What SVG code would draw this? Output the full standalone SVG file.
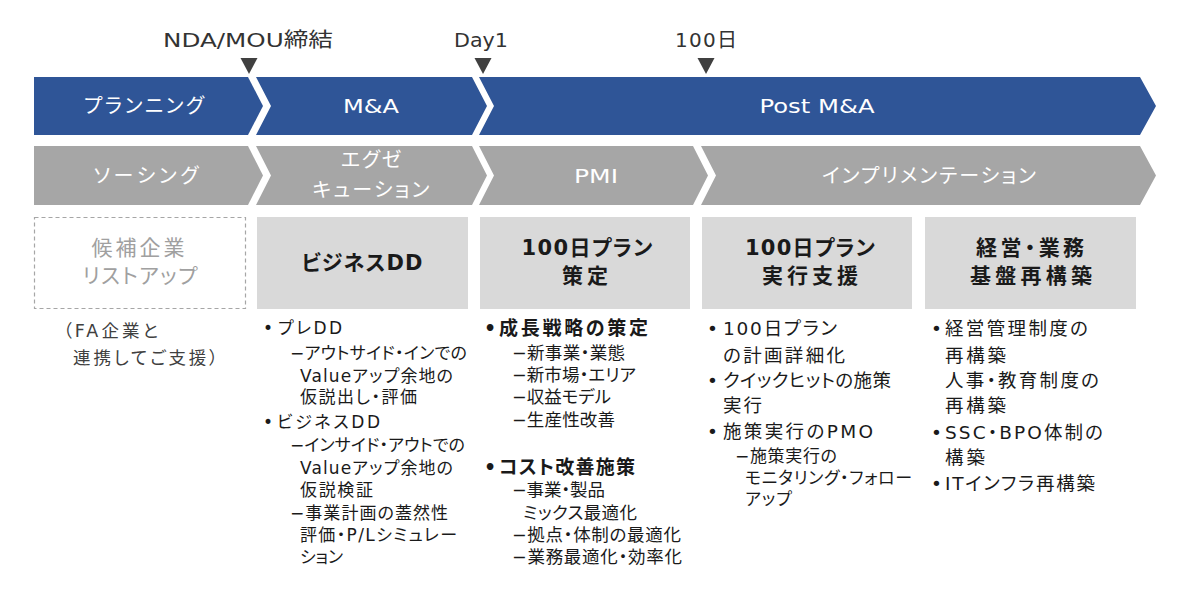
<svg xmlns="http://www.w3.org/2000/svg" width="1200" height="600" viewBox="0 0 1200 600">
<style>
text{font-family:"DejaVu Sans","Noto Sans CJK JP",sans-serif;font-feature-settings:"palt";}
.blue{fill:#2F5597;}
.gray{fill:#A6A6A6;}
.box{fill:#D9D9D9;}
.dash{fill:#FFFFFF;stroke:#A6A6A6;stroke-width:1.2;stroke-dasharray:4 3;}
.tri{fill:#404040;}
.mk{font-size:20px;fill:#333333;text-anchor:middle;}
.band{font-size:20px;fill:#FFFFFF;text-anchor:middle;}
.ttl{font-size:21px;font-weight:700;fill:#1A1A1A;text-anchor:middle;}
.ttlg{font-size:21px;fill:#A0A0A0;text-anchor:middle;}
.c1{font-size:17.5px;fill:#404040;}
.c2{font-size:17px;fill:#1A1A1A;}
.c3{font-size:17.5px;fill:#1A1A1A;}
.c3b{font-size:19px;font-weight:700;fill:#1A1A1A;}
.c4{font-size:18.5px;fill:#1A1A1A;}
</style>

<g id="milestones">
  <text class="mk" x="248" y="46.5" textLength="170" lengthAdjust="spacingAndGlyphs">NDA/MOU締結</text>
  <path class="tri" d="M240.5,58 H257.5 L249,74 Z"/>
  <text class="mk" x="481" y="46.5" textLength="54" lengthAdjust="spacingAndGlyphs">Day1</text>
  <path class="tri" d="M474.5,58 H491.5 L483,74 Z"/>
  <text class="mk" x="706" y="46.5" textLength="62">100日</text>
  <path class="tri" d="M697.5,58 H714.5 L706,74 Z"/>
</g>

<g id="phase-planning">
  <path class="blue" d="M34,77 H248 L263,106 L248,135 H34 Z"/>
  <text class="band" x="144" y="113" textLength="120">プランニング</text>
</g>
<g id="phase-ma">
  <path class="blue" d="M256,77 H472 L487,106 L472,135 H256 L271,106 Z"/>
  <text class="band" x="371" y="113" textLength="56" lengthAdjust="spacingAndGlyphs">M&amp;A</text>
</g>
<g id="phase-postma">
  <path class="blue" d="M479,77 H1140 L1156,106 L1140,135 H479 L494,106 Z"/>
  <text class="band" x="817" y="113" textLength="115" lengthAdjust="spacingAndGlyphs">Post M&amp;A</text>
</g>

<g id="stage-sourcing">
  <path class="gray" d="M34,146 H248 L263,175.5 L248,205 H34 Z"/>
  <text class="band" x="146" y="182.5" textLength="105">ソーシング</text>
</g>
<g id="stage-execution">
  <path class="gray" d="M256,146 H472 L487,175.5 L472,205 H256 L271,175.5 Z"/>
  <text class="band" x="371" y="167" textLength="60">エグゼ</text>
  <text class="band" x="371" y="197" textLength="117">キューション</text>
</g>
<g id="stage-pmi">
  <path class="gray" d="M479,146 H693 L708,175.5 L693,205 H479 L494,175.5 Z"/>
  <text class="band" x="596" y="182.5" textLength="44" lengthAdjust="spacingAndGlyphs">PMI</text>
</g>
<g id="stage-implementation">
  <path class="gray" d="M701,146 H1140 L1156,175.5 L1140,205 H701 L716,175.5 Z"/>
  <text class="band" x="929" y="182.5" textLength="214">インプリメンテーション</text>
</g>

<g id="box-candidates">
  <rect class="dash" x="34.5" y="217.5" width="211" height="91"/>
  <text class="ttlg" x="138" y="254.5" textLength="93">候補企業</text>
  <text class="ttlg" x="140" y="282.5" textLength="115">リストアップ</text>
  <text class="c1" x="63" y="337" textLength="95">（FA企業と</text>
  <text class="c1" x="73" y="364" textLength="145">連携してご支援）</text>
</g>

<g id="box-businessdd">
  <rect class="box" x="257" y="217" width="211" height="92"/>
  <text class="ttl" x="362" y="269.5" textLength="121">ビジネスDD</text>
  <text class="c2" x="263" y="334">•</text>
  <text class="c2" x="278" y="334" textLength="64">プレDD</text>
  <text class="c2" x="290" y="359" textLength="177">−アウトサイド・インでの</text>
  <text class="c2" x="300" y="382" textLength="153">Valueアップ余地の</text>
  <text class="c2" x="300" y="403" textLength="117">仮説出し・評価</text>
  <text class="c2" x="263" y="428">•</text>
  <text class="c2" x="277" y="428" textLength="103">ビジネスDD</text>
  <text class="c2" x="290" y="451" textLength="175">−インサイド・アウトでの</text>
  <text class="c2" x="300" y="474" textLength="153">Valueアップ余地の</text>
  <text class="c2" x="300" y="496" textLength="73">仮説検証</text>
  <text class="c2" x="290" y="519" textLength="158">−事業計画の蓋然性</text>
  <text class="c2" x="300" y="541" textLength="157">評価・P/Lシミュレー</text>
  <text class="c2" x="300" y="563" textLength="43">ション</text>
</g>

<g id="box-100day-plan">
  <rect class="box" x="480" y="217" width="210" height="92"/>
  <text class="ttl" x="587" y="254.5" textLength="131">100日プラン</text>
  <text class="ttl" x="585" y="282.5" textLength="46">策定</text>
  <text class="c3b" x="484" y="334.5">•</text>
  <text class="c3b" x="499" y="334.5" textLength="149">成長戦略の策定</text>
  <text class="c3" x="512" y="359" textLength="113">−新事業・業態</text>
  <text class="c3" x="512" y="381" textLength="124">−新市場・エリア</text>
  <text class="c3" x="512" y="403" textLength="99">−収益モデル</text>
  <text class="c3" x="512" y="426" textLength="103">−生産性改善</text>
  <text class="c3b" x="484" y="473.5">•</text>
  <text class="c3b" x="499" y="473.5" textLength="136">コスト改善施策</text>
  <text class="c3" x="512" y="496" textLength="93">−事業・製品</text>
  <text class="c3" x="523" y="519" textLength="114">ミックス最適化</text>
  <text class="c3" x="512" y="541" textLength="169">−拠点・体制の最適化</text>
  <text class="c3" x="512" y="563" textLength="170">−業務最適化・効率化</text>
</g>

<g id="box-100day-support">
  <rect class="box" x="702" y="217" width="210" height="92"/>
  <text class="ttl" x="810" y="254.5" textLength="130">100日プラン</text>
  <text class="ttl" x="810" y="282.5" textLength="96">実行支援</text>
  <text class="c4" x="707" y="334.5">•</text>
  <text class="c4" x="723" y="334.5" textLength="114">100日プラン</text>
  <text class="c4" x="723" y="361.5" textLength="122">の計画詳細化</text>
  <text class="c4" x="707" y="386.5">•</text>
  <text class="c4" x="723" y="386.5" textLength="168">クイックヒットの施策</text>
  <text class="c4" x="723" y="411.5" textLength="39">実行</text>
  <text class="c4" x="707" y="437.5">•</text>
  <text class="c4" x="723" y="437.5" textLength="150">施策実行のPMO</text>
  <text class="c2" x="735" y="461.5" textLength="102">−施策実行の</text>
  <text class="c2" x="745" y="483.5" textLength="167">モニタリング・フォロー</text>
  <text class="c2" x="745" y="504.5" textLength="47">アップ</text>
</g>

<g id="box-restructure">
  <rect class="box" x="925" y="217" width="211" height="92"/>
  <text class="ttl" x="1030" y="254.5" textLength="108">経営・業務</text>
  <text class="ttl" x="1031" y="282.5" textLength="122">基盤再構築</text>
  <text class="c4" x="931" y="334.5">•</text>
  <text class="c4" x="945" y="334.5" textLength="143">経営管理制度の</text>
  <text class="c4" x="945" y="361.5" textLength="61">再構築</text>
  <text class="c4" x="945" y="386.5" textLength="154">人事・教育制度の</text>
  <text class="c4" x="945" y="411.5" textLength="61">再構築</text>
  <text class="c4" x="931" y="438.5">•</text>
  <text class="c4" x="945" y="438.5" textLength="158">SSC・BPO体制の</text>
  <text class="c4" x="945" y="463.5" textLength="40">構築</text>
  <text class="c4" x="931" y="489.5">•</text>
  <text class="c4" x="945" y="489.5" textLength="150">ITインフラ再構築</text>
</g>

<g id="connectors"></g>
</svg>
